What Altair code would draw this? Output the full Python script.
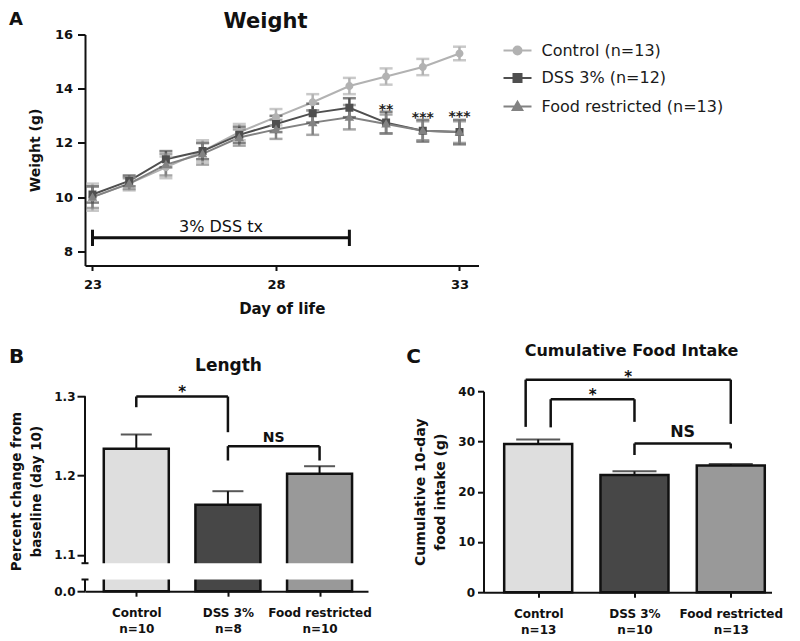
import json
import altair as alt
import pandas as pd

FONT = "DejaVu Sans"
INK = "#111111"

# ---------------- Panel A : weight curves ----------------
days = list(range(23, 34))
series_names = ["Control (n=13)", "DSS 3% (n=12)", "Food restricted (n=13)"]
series_colors = ["#b2b2b2", "#4f4f4f", "#828282"]
control_mean = [10.0, 10.5, 11.1, 11.7, 12.4, 12.95, 13.5, 14.1, 14.45, 14.8, 15.3]
control_sem = [0.5, 0.25, 0.4, 0.4, 0.3, 0.3, 0.3, 0.3, 0.3, 0.3, 0.25]
dss_mean = [10.1, 10.6, 11.4, 11.7, 12.3, 12.7, 13.1, 13.3, 12.75, 12.45, 12.4]
dss_sem = [0.3, 0.2, 0.3, 0.3, 0.3, 0.3, 0.35, 0.35, 0.4, 0.4, 0.45]
fr_mean = [10.0, 10.5, 11.2, 11.6, 12.2, 12.5, 12.75, 12.95, 12.7, 12.45, 12.4]
fr_sem = [0.4, 0.2, 0.4, 0.4, 0.3, 0.35, 0.45, 0.45, 0.35, 0.35, 0.4]

star_days = [31, 32, 33]
star_y = [13.05, 12.78, 12.82]
star_text = ["**", "***", "***"]

tx_start, tx_end, tx_y = 23, 30, 8.5
tx_label, tx_label_x, tx_label_y = "3% DSS tx", 26.5, 8.71

# ---------------- Panels B and C : bars ----------------
groups = ["Control", "DSS 3%", "Food restricted"]
bar_colors = ["#dedede", "#474747", "#999999"]
b_n = ["n=10", "n=8", "n=10"]
b_mean = [1.2337, 1.163, 1.2021]
b_err = [0.018, 0.0172, 0.0096]
c_n = ["n=13", "n=10", "n=13"]
c_mean = [29.5, 23.3, 25.2]
c_err = [0.9, 0.75, 0.3]

# brackets: (x, x2, y, y2) segments in data units, labels (x, y, text, size)
b_brackets = [(0, 0, 1.2861, 1.2996), (0, 1, 1.2996, 1.2996), (1, 1, 1.2996, 1.2546),
              (1, 1, 1.2189, 1.237), (1, 2, 1.237, 1.237), (2, 2, 1.237, 1.2189)]
b_bracket_labels = [(0.5, 1.2993, "*", 15), (1.5, 1.242, "NS", 14)]
c_brackets = [(-0.13, -0.13, 32.9, 42.3), (-0.13, 2, 42.3, 42.3), (2, 2, 42.3, 33.5),
              (0.13, 0.13, 32.8, 38.4), (0.13, 1, 38.4, 38.4), (1, 1, 38.4, 33.9),
              (1, 1, 27.3, 29.6), (1, 2, 29.6, 29.6), (2, 2, 29.6, 28.6)]
c_bracket_labels = [(0.935, 41.9, "*", 15), (0.565, 38.3, "*", 15), (1.5, 30.8, "NS", 16)]

# break of the B axis (data units)
b_break_low_top = 0.02
b_break_high_bottom = 1.0894

# ---------------- sizes ----------------
A_W, A_H = 393.5, 231
B_W, B_H = 283, 200
C_W, C_H = 288, 201


def text_layer(txt, x, y, size, weight="bold", align="center"):
    return alt.Chart(pd.DataFrame({"t": [txt]})).mark_text(
        font=FONT, fontSize=size, fontWeight=weight, color=INK, align=align, baseline="alphabetic"
    ).encode(text="t:N", x=alt.value(x), y=alt.value(y))


# ======== Panel A ========
rows = []
for name, means, sems in zip(series_names, [control_mean, dss_mean, fr_mean], [control_sem, dss_sem, fr_sem]):
    for d, m, s in zip(days, means, sems):
        rows.append({"day": d, "series": name, "mean": m, "lo": m - s, "hi": m + s})
dfA = pd.DataFrame(rows)
caps = pd.concat([
    dfA[["day", "series"]].assign(cap=dfA["lo"]),
    dfA[["day", "series"]].assign(cap=dfA["hi"]),
])

a_xs = alt.Scale(domain=[22.796, 33.518], nice=False, zero=False)
a_ys = alt.Scale(domain=[7.48, 16.0], nice=False, zero=False)
a_x_axis = alt.Axis(values=[23, 28, 33], title="Day of life", tickSize=5, labelPadding=8,
                    titlePadding=10, titleFontSize=15, labelFontSize=13)
a_y_axis = alt.Axis(values=[8, 10, 12, 14, 16], title="Weight (g)", tickSize=7.5, labelPadding=5,
                    titlePadding=12, titleFontSize=14, labelFontSize=13)


def AX(f):
    return alt.X(f, type="quantitative", scale=a_xs, axis=a_x_axis)


def AY(f):
    return alt.Y(f, type="quantitative", scale=a_ys, axis=a_y_axis)


col_scale = alt.Scale(domain=series_names, range=series_colors)
shape_paths = [
    "M-3.5,0H3.5M1,0A1,1,0,1,1,-1,0A1,1,0,1,1,1,0Z",
    "M-3.5,0H3.5M-1,-1H1V1H-1Z",
    "M-3.5,0H3.5M0,-1.2L1.2,0.9H-1.2Z",
]
shape_scale = alt.Scale(domain=series_names, range=shape_paths)
COL = alt.Color("series:N", scale=col_scale, legend=None)

LEG = alt.Legend(title=None, orient="none", legendX=424.5, legendY=8, labelFont=FONT,
                 labelFontSize=16, labelFontWeight="normal", labelColor="#1a1a1a", labelLimit=400,
                 symbolSize=64, symbolStrokeWidth=2, rowPadding=11.5, labelOffset=16)

baseA = alt.Chart(dfA)
a_leg = baseA.transform_filter("false").mark_point(filled=True, size=64, opacity=1, strokeWidth=2).encode(
    x=AX("day"), y=AY("mean"),
    color=alt.Color("series:N", scale=col_scale, legend=LEG),
    stroke=alt.Stroke("series:N", scale=col_scale, legend=LEG),
    shape=alt.Shape("series:N", scale=shape_scale, legend=LEG))
a_lines = baseA.mark_line(strokeWidth=2).encode(x=AX("day"), y=AY("mean"), color=COL, detail="series:N")
a_err = baseA.mark_rule(strokeWidth=2.5).encode(x=AX("day"), y=AY("lo"), y2="hi:Q", color=COL)
a_caps = alt.Chart(caps).mark_tick(orient="horizontal", size=13, thickness=2.5).encode(
    x=AX("day"), y=AY("cap"), color=COL)
a_pts = baseA.mark_point(filled=True, size=64, opacity=1).encode(
    x=AX("day"), y=AY("mean"), color=COL,
    shape=alt.Shape("series:N", scale=shape_scale, legend=None))

tx_df = pd.DataFrame({"x": [tx_start], "x2": [tx_end], "y": [tx_y]})
tx_rule = alt.Chart(tx_df).mark_rule(strokeWidth=3, color=INK).encode(x=AX("x"), x2="x2:Q", y=AY("y"))
tx_caps_df = pd.DataFrame({"x": [tx_start, tx_end], "lo": [tx_y - 0.3] * 2, "hi": [tx_y + 0.3] * 2})
tx_caps = alt.Chart(tx_caps_df).mark_rule(strokeWidth=3, color=INK).encode(x=AX("x"), y=AY("lo"), y2="hi:Q")
tx_text = alt.Chart(pd.DataFrame({"x": [tx_label_x], "y": [tx_label_y], "t": [tx_label]})).mark_text(
    font=FONT, fontSize=16, color=INK, baseline="alphabetic").encode(x=AX("x"), y=AY("y"), text="t:N")
stars = alt.Chart(pd.DataFrame({"x": star_days, "y": star_y, "t": star_text})).mark_text(
    font=FONT, fontSize=14, fontWeight="bold", color="#222", baseline="alphabetic").encode(
    x=AX("x"), y=AY("y"), text="t:N")

panelA = alt.layer(
    a_leg, a_lines, a_err, a_caps, a_pts, tx_rule, tx_caps, tx_text, stars,
    text_layer("Weight", 180.5, -6.5, 21),
    text_layer("A", -69, -9.3, 18),
).properties(width=A_W, height=A_H)


# ======== Bars helper ========
def lab_expr(names, ns):
    labels = [f"{g}|{n}" for g, n in zip(names, ns)]
    return "split(" + json.dumps(labels) + "[datum.value], '|')"


def bar_panel(means, errs, ns, xs, ys, y_axis, width, cap_w, brackets, labels, extra_layers):
    df = pd.DataFrame({"pos": [0, 1, 2], "group": groups, "mean": means,
                       "hi": [m + e for m, e in zip(means, errs)]})
    x_axis = alt.Axis(values=[0, 1, 2], labelExpr=lab_expr(groups, ns), title=None, tickSize=5,
                      labelPadding=11, labelFontSize=12, labelLineHeight=16, labelBaseline="top")

    def X(f):
        return alt.X(f, type="quantitative", scale=xs, axis=x_axis)

    def Y(f):
        return alt.Y(f, type="quantitative", scale=ys, axis=y_axis)

    bars = alt.Chart(df).mark_bar(width=width, stroke=INK, strokeWidth=2.5).encode(
        x=X("pos"), y=Y("mean"),
        fill=alt.Fill("group:N", scale=alt.Scale(domain=groups, range=bar_colors), legend=None))
    err = alt.Chart(df).mark_rule(strokeWidth=2, color=INK).encode(x=X("pos"), y=Y("mean"), y2="hi:Q")
    cap = alt.Chart(df).mark_tick(orient="horizontal", size=cap_w, thickness=2, color=INK).encode(
        x=X("pos"), y=Y("hi"))
    bdf = pd.DataFrame(brackets, columns=["x", "x2", "y", "y2"])
    br = alt.Chart(bdf).mark_rule(strokeWidth=2.5, color=INK).encode(
        x=X("x"), x2="x2:Q", y=Y("y"), y2="y2:Q")
    layers = [bars] + extra_layers(X, Y) + [err, cap, br]
    for lx, ly, lt, ls in labels:
        layers.append(alt.Chart(pd.DataFrame({"x": [lx], "y": [ly], "t": [lt]})).mark_text(
            font=FONT, fontSize=ls, fontWeight="bold", color=INK, baseline="alphabetic").encode(
            x=X("x"), y=Y("y"), text="t:N"))
    return layers


# ======== Panel B ========
b_xs = alt.Scale(domain=[-0.505, 2.474], nice=False, zero=False)
b_ys = alt.Scale(domain=[0, b_break_low_top, b_break_high_bottom, 1.3063],
                 range=[200, 188.3, 172, 0], nice=False, zero=False)
b_y_axis = alt.Axis(values=[0, 1.1, 1.2, 1.3], labelExpr="format(datum.value, '.1f')", domain=False,
                    tickSize=8, labelPadding=2, labelFontSize=12,
                    title=["Percent change from", "baseline (day 10)"], titleFontSize=13.5,
                    titleLineHeight=20, titlePadding=10)


def b_extra(X, Y):
    gap = alt.Chart(pd.DataFrame({"a": [0]})).mark_rect(color="white").encode(
        y=alt.YDatum(b_break_low_top, scale=b_ys, axis=b_y_axis, type="quantitative"),
        y2=alt.Y2Datum(b_break_high_bottom))
    seg_df = pd.DataFrame({"lo": [0, b_break_high_bottom], "hi": [b_break_low_top, 1.3]})
    seg = alt.Chart(seg_df).mark_rule(strokeWidth=2, color=INK).encode(
        x=alt.value(0), y=Y("lo"), y2="hi:Q")
    brk_df = pd.DataFrame({"y": [b_break_low_top, b_break_high_bottom]})
    brk = alt.Chart(brk_df).mark_rule(strokeWidth=2, color=INK).encode(
        x=alt.value(-3.5), x2=alt.value(3.5), y=Y("y"))
    return [gap, seg, brk]


panelB = alt.layer(
    *bar_panel(b_mean, b_err, b_n, b_xs, b_ys, b_y_axis, 65, 31, b_brackets, b_bracket_labels, b_extra),
    text_layer("Length", 143.5, -20.7, 17),
    text_layer("B", -68.5, -28.7, 20),
).properties(width=B_W, height=B_H)

# ======== Panel C ========
c_xs = alt.Scale(domain=[-0.516, 2.371], nice=False, zero=False)
c_ys = alt.Scale(domain=[0, 40], nice=False, zero=False)
c_y_axis = alt.Axis(values=[0, 10, 20, 30, 40], tickSize=6, labelPadding=3, labelFontSize=12,
                    title=["Cumulative 10-day", "food intake (g)"], titleFontSize=14,
                    titleLineHeight=20, titlePadding=10)

panelC = alt.layer(
    *bar_panel(c_mean, c_err, c_n, c_xs, c_ys, c_y_axis, 68, 44, c_brackets, c_bracket_labels,
               lambda X, Y: []),
    text_layer("Cumulative Food Intake", 148, -35.7, 16),
    text_layer("C", -70, -28.7, 20),
).properties(width=C_W, height=C_H)

bottom = alt.hconcat(panelB, panelC, spacing=115.5, bounds="flush")
chart = alt.vconcat(panelA, bottom, spacing=125.7, bounds="flush").resolve_scale(
    color="independent", fill="independent", stroke="independent", shape="independent"
).resolve_legend(
    color="independent", fill="independent", stroke="independent", shape="independent"
).properties(
    padding={"left": 0, "top": 2.5, "right": 0, "bottom": 0}
).configure_view(
    stroke=None
).configure_axis(
    grid=False, domainColor=INK, domainWidth=2, tickColor=INK, tickWidth=2,
    labelFont=FONT, labelFontWeight="bold", labelColor=INK,
    titleFont=FONT, titleFontWeight="bold", titleColor=INK,
)

chart.save("out.html", embed_options={"renderer": "svg", "actions": False})
